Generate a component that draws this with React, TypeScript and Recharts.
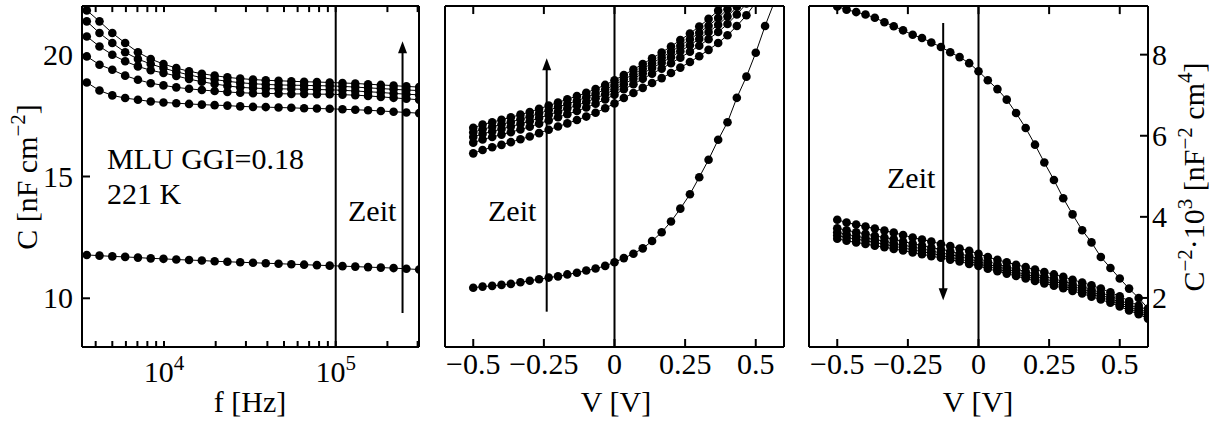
import React from 'react'
import { LineChart, Line, XAxis, YAxis, ReferenceLine } from 'recharts'

const FONT = '"Liberation Serif", "Times New Roman", Times, serif'
const FS = 30
const SUP = 21
const W = 1215
const H = 425

// panel 1: C(f), time series A (first) .. F (last)
const freqHz = [3550, 4210, 5000, 5940, 7050, 8370, 9930, 11790, 13990, 16610, 19720, 23400, 27780, 32980, 39140, 46460, 55150, 65460, 77710, 92240, 109500, 130000, 154300, 183100, 217300, 258000, 306200]
const cfA = [11.78, 11.75, 11.72, 11.7, 11.67, 11.64, 11.62, 11.59, 11.57, 11.55, 11.52, 11.5, 11.48, 11.46, 11.44, 11.42, 11.4, 11.38, 11.36, 11.34, 11.32, 11.3, 11.28, 11.26, 11.24, 11.21, 11.18]
const cfB = [18.86, 18.53, 18.33, 18.22, 18.15, 18.08, 18.04, 18.01, 17.98, 17.95, 17.93, 17.91, 17.88, 17.86, 17.85, 17.83, 17.82, 17.8, 17.79, 17.78, 17.76, 17.74, 17.72, 17.69, 17.66, 17.63, 17.6]
const cfC = [19.93, 19.59, 19.38, 19.14, 18.97, 18.83, 18.74, 18.66, 18.6, 18.55, 18.51, 18.47, 18.44, 18.42, 18.41, 18.4, 18.39, 18.39, 18.38, 18.38, 18.36, 18.34, 18.31, 18.27, 18.23, 18.19, 18.15]
const cfD = [20.75, 20.34, 20.0, 19.73, 19.52, 19.36, 19.25, 19.13, 19.0, 18.89, 18.8, 18.72, 18.66, 18.63, 18.61, 18.6, 18.59, 18.58, 18.57, 18.56, 18.54, 18.51, 18.48, 18.45, 18.41, 18.38, 18.35]
const cfE = [21.37, 20.89, 20.48, 20.1, 19.82, 19.62, 19.45, 19.3, 19.17, 19.06, 18.98, 18.91, 18.85, 18.81, 18.78, 18.76, 18.75, 18.74, 18.73, 18.72, 18.7, 18.67, 18.64, 18.61, 18.58, 18.55, 18.53]
const cfF = [21.82, 21.37, 20.89, 20.48, 20.1, 19.82, 19.62, 19.45, 19.32, 19.22, 19.14, 19.07, 19.02, 18.98, 18.95, 18.93, 18.91, 18.89, 18.88, 18.86, 18.84, 18.82, 18.79, 18.76, 18.73, 18.7, 18.67]

// panel 2: C(V)
const volts = [-0.5, -0.467, -0.433, -0.4, -0.367, -0.333, -0.3, -0.267, -0.233, -0.2, -0.167, -0.133, -0.1, -0.067, -0.033, 0, 0.033, 0.067, 0.1, 0.133, 0.167, 0.2, 0.233, 0.267, 0.3, 0.333, 0.367, 0.4, 0.433, 0.467, 0.5, 0.533, 0.567, 0.6]
const cvA = [10.43, 10.48, 10.51, 10.55, 10.59, 10.66, 10.72, 10.78, 10.85, 10.9, 10.98, 11.05, 11.14, 11.22, 11.33, 11.48, 11.65, 11.83, 12.05, 12.35, 12.71, 13.15, 13.68, 14.27, 14.97, 15.69, 16.51, 17.23, 18.23, 19.1, 20.08, 21.18, 22.2, 23.97]
const cvB = [15.95, 16.09, 16.2, 16.3, 16.41, 16.53, 16.64, 16.78, 16.92, 17.05, 17.18, 17.32, 17.46, 17.62, 17.8, 18.0, 18.22, 18.43, 18.64, 18.84, 19.04, 19.25, 19.47, 19.7, 19.94, 20.2, 20.48, 20.8, 21.18, 21.62, 22.15, 22.8, 23.5, 24.3]
const cvC = [16.39, 16.52, 16.62, 16.72, 16.82, 16.93, 17.04, 17.17, 17.3, 17.43, 17.56, 17.69, 17.83, 17.99, 18.16, 18.36, 18.58, 18.79, 19.01, 19.22, 19.43, 19.65, 19.88, 20.12, 20.37, 20.64, 20.93, 21.26, 21.65, 22.1, 22.64, 23.3, 24.0, 24.8]
const cvD = [16.62, 16.75, 16.85, 16.95, 17.05, 17.16, 17.27, 17.4, 17.53, 17.66, 17.79, 17.92, 18.06, 18.21, 18.38, 18.57, 18.79, 19.01, 19.23, 19.45, 19.67, 19.9, 20.14, 20.39, 20.65, 20.93, 21.23, 21.57, 21.97, 22.43, 22.98, 23.64, 24.35, 25.15]
const cvE = [16.81, 16.94, 17.04, 17.14, 17.24, 17.35, 17.46, 17.59, 17.72, 17.85, 17.98, 18.11, 18.25, 18.4, 18.57, 18.76, 18.98, 19.2, 19.42, 19.65, 19.88, 20.12, 20.37, 20.63, 20.9, 21.19, 21.51, 21.87, 22.28, 22.75, 23.3, 23.96, 24.68, 25.5]
const cvF = [17.0, 17.13, 17.23, 17.33, 17.43, 17.54, 17.65, 17.78, 17.91, 18.04, 18.17, 18.3, 18.44, 18.59, 18.76, 18.95, 19.17, 19.39, 19.62, 19.85, 20.09, 20.34, 20.6, 20.87, 21.16, 21.47, 21.81, 22.19, 22.62, 23.1, 23.66, 24.32, 25.05, 25.9]

// panel 3: C^-2 * 1e3 (V)
const ivA = [9.19, 9.11, 9.05, 8.99, 8.91, 8.8, 8.7, 8.6, 8.49, 8.41, 8.3, 8.19, 8.06, 7.94, 7.79, 7.59, 7.37, 7.15, 6.89, 6.56, 6.19, 5.78, 5.34, 4.91, 4.46, 4.06, 3.67, 3.37, 3.01, 2.74, 2.48, 2.23, 2.0, 1.74]
const ivB = [3.93, 3.86, 3.81, 3.76, 3.71, 3.66, 3.61, 3.55, 3.49, 3.44, 3.39, 3.33, 3.28, 3.22, 3.16, 3.09, 3.01, 2.94, 2.88, 2.82, 2.76, 2.7, 2.64, 2.58, 2.52, 2.45, 2.38, 2.31, 2.23, 2.14, 2.04, 1.92, 1.81, 1.69]
const ivC = [3.72, 3.67, 3.62, 3.58, 3.53, 3.49, 3.45, 3.39, 3.34, 3.29, 3.24, 3.2, 3.15, 3.09, 3.03, 2.97, 2.9, 2.83, 2.77, 2.71, 2.65, 2.59, 2.53, 2.47, 2.41, 2.35, 2.28, 2.21, 2.13, 2.05, 1.95, 1.84, 1.74, 1.63]
const ivD = [3.62, 3.57, 3.52, 3.48, 3.44, 3.4, 3.35, 3.3, 3.26, 3.21, 3.16, 3.11, 3.07, 3.02, 2.96, 2.9, 2.83, 2.77, 2.71, 2.64, 2.58, 2.53, 2.47, 2.41, 2.35, 2.28, 2.22, 2.15, 2.07, 1.99, 1.89, 1.79, 1.69, 1.58]
const ivE = [3.54, 3.49, 3.45, 3.41, 3.37, 3.32, 3.28, 3.23, 3.19, 3.14, 3.1, 3.05, 3.0, 2.96, 2.9, 2.84, 2.78, 2.71, 2.65, 2.59, 2.53, 2.47, 2.41, 2.35, 2.29, 2.23, 2.16, 2.09, 2.02, 1.93, 1.84, 1.74, 1.64, 1.54]
const ivF = [3.46, 3.41, 3.37, 3.33, 3.29, 3.25, 3.21, 3.17, 3.12, 3.08, 3.03, 2.99, 2.94, 2.9, 2.84, 2.79, 2.72, 2.66, 2.6, 2.54, 2.48, 2.42, 2.36, 2.3, 2.24, 2.17, 2.11, 2.03, 1.96, 1.88, 1.79, 1.69, 1.6, 1.49]

// ticks
const fTicks = [4000, 5000, 6000, 7000, 8000, 9000, 10000, 20000, 30000, 40000, 50000, 60000, 70000, 80000, 90000, 100000, 200000, 300000]
const fMajor = [10000, 100000]
const cTicks = [10, 15, 20]
const vTicks = [-0.5, -0.25, 0, 0.25, 0.5]
const vLabels = ['−0.5', '−0.25', '0', '0.25', '0.5']
const invTicks = [2, 4, 6, 8]
const invTicksLeft = [1, 2, 3, 4]

const keys = ['A', 'B', 'C', 'D', 'E', 'F']
const cfData = freqHz.map((f, i) => ({ f, A: cfA[i], B: cfB[i], C: cfC[i], D: cfD[i], E: cfE[i], F: cfF[i] }))
const cvData = volts.map((v, i) => ({ v, A: cvA[i], B: cvB[i], C: cvC[i], D: cvD[i], E: cvE[i], F: cvF[i] }))
const ivData = volts.map((v, i) => ({ v, A: ivA[i], B: ivB[i], C: ivC[i], D: ivD[i], E: ivE[i], F: ivF[i] }))

const frame = { stroke: '#000', strokeWidth: 2 }
const tickStroke = { stroke: '#000', strokeWidth: 2 }

// built-in tick lines pointing inwards (negative size); the margin puts the label origin back on the axis
const inward = (n: number) => ({ tickSize: -n, tickMargin: n, tickLine: tickStroke })
const axisBase = { allowDataOverflow: true, interval: 0 as const, axisLine: frame }

// mirrored ticks along the top edge, hanging down from the upper y limit
const topTicks = (xs: number[], yTop: number, len: number) =>
  xs.map((x) => (
    <ReferenceLine key={`t${x}`} segment={[{ x, y: yTop }, { x, y: yTop - len }]} stroke="#000" strokeWidth={2} />
  ))

const bottomLabel = (label: (v: number) => React.ReactNode, dy: number) => (p: any) => {
  const l = label(p.payload.value)
  if (l == null) return <g />
  return (
    <text x={p.x} y={p.y + dy} textAnchor="middle" fontFamily={FONT} fontSize={FS} fill="#000">
      {l}
    </text>
  )
}

const leftLabel = (p: any) => (
  <text x={p.x - 9} y={p.y} dy="0.34em" textAnchor="end" fontFamily={FONT} fontSize={FS} fill="#000">
    {p.payload.value}
  </text>
)

const rightLabel = (p: any) => (
  <text x={p.x + 4} y={p.y} dy="0.34em" textAnchor="start" fontFamily={FONT} fontSize={FS} fill="#000">
    {p.payload.value}
  </text>
)

const arrow = (p: any) => {
  const { x1, y1, x2, y2 } = p
  const d = y2 < y1 ? 1 : -1
  return (
    <g>
      <line x1={x1} y1={y1} x2={x2} y2={y2 + d * 9} stroke="#000" strokeWidth={2} />
      <polygon points={`${x2},${y2} ${x2 - 4.5},${y2 + d * 12} ${x2 + 4.5},${y2 + d * 12}`} fill="#000" />
    </g>
  )
}

const series = () =>
  keys.map((k) => (
    <Line
      key={k}
      type="linear"
      dataKey={k}
      stroke="#000"
      strokeWidth={1}
      dot={{ r: 4.3, fill: '#000', stroke: 'none' }}
      activeDot={false}
      isAnimationActive={false}
    />
  ))

const vLabel = (v: number) => vLabels[vTicks.indexOf(v)]
const fLabel = (v: number) =>
  fMajor.includes(v) ? (
    <>
      10
      <tspan dy={-12} fontSize={SUP}>
        {Math.round(Math.log10(v))}
      </tspan>
    </>
  ) : null

const abs: React.CSSProperties = { position: 'absolute', left: 0, top: 0 }

export default function App() {
  return (
    <div style={{ position: 'relative', width: W, height: H, background: '#fff' }}>
      <style>{'body{margin:0;background:#fff}'}</style>

      <div style={abs}>
        <LineChart width={W} height={H} data={cfData} margin={{ top: 5, bottom: 77, left: 81, right: W - 420 }}>
          <XAxis dataKey="f" type="number" scale="log" domain={[3330, 305500]} ticks={fTicks} height={1}
            {...axisBase} {...inward(6)} tick={bottomLabel(fLabel, 35)} />
          <XAxis xAxisId="top" dataKey="f" orientation="top" type="number" scale="log" domain={[3330, 305500]} height={1}
            {...axisBase} tickLine={false} tick={false} />
          <YAxis type="number" domain={[8, 22]} ticks={cTicks} width={1} {...axisBase} {...inward(8)} tick={leftLabel} />
          <YAxis yAxisId="right" orientation="right" type="number" domain={[8, 22]} ticks={cTicks} width={1}
            {...axisBase} {...inward(8)} tick={false} />
          <ReferenceLine x={100000} stroke="#000" strokeWidth={2} />
          <ReferenceLine segment={[{ x: 245000, y: 9.4 }, { x: 245000, y: 20.55 }]} shape={arrow} />
          {topTicks(fTicks, 22, 0.25)}
          {series()}
        </LineChart>
      </div>

      <div style={abs}>
        <LineChart width={W} height={H} data={cvData} margin={{ top: 5, bottom: 77, left: 444, right: W - 785 }}>
          <XAxis dataKey="v" type="number" domain={[-0.6, 0.6]} ticks={vTicks} height={1}
            {...axisBase} {...inward(8)} tick={bottomLabel(vLabel, 27)} />
          <XAxis xAxisId="top" dataKey="v" orientation="top" type="number" domain={[-0.6, 0.6]} height={1}
            {...axisBase} tickLine={false} tick={false} />
          <YAxis type="number" domain={[8, 22]} ticks={cTicks} width={1} {...axisBase} {...inward(8)} tick={false} />
          <YAxis yAxisId="right" orientation="right" type="number" domain={[8, 22]} ticks={cTicks} width={1}
            {...axisBase} {...inward(8)} tick={false} />
          <ReferenceLine x={0} stroke="#000" strokeWidth={2} />
          <ReferenceLine segment={[{ x: -0.24, y: 9.45 }, { x: -0.24, y: 19.85 }]} shape={arrow} />
          {topTicks(vTicks, 22, 0.33)}
          {series()}
        </LineChart>
      </div>

      <div style={abs}>
        <LineChart width={W} height={H} data={ivData} margin={{ top: 5, bottom: 77, left: 808, right: W - 1149 }}>
          <XAxis dataKey="v" type="number" domain={[-0.6, 0.6]} ticks={vTicks} height={1}
            {...axisBase} {...inward(8)} tick={bottomLabel(vLabel, 27)} />
          <XAxis xAxisId="top" dataKey="v" orientation="top" type="number" domain={[-0.6, 0.6]} height={1}
            {...axisBase} tickLine={false} tick={false} />
          <YAxis type="number" domain={[0.79, 9.2]} ticks={invTicksLeft} width={1} {...axisBase} {...inward(8)} tick={false} />
          <YAxis yAxisId="right" orientation="right" type="number" domain={[0.79, 9.2]} ticks={invTicks} width={1}
            {...axisBase} {...inward(8)} tick={rightLabel} />
          <ReferenceLine x={0} stroke="#000" strokeWidth={2} />
          <ReferenceLine segment={[{ x: -0.125, y: 8.78 }, { x: -0.125, y: 1.94 }]} shape={arrow} />
          {topTicks(vTicks, 9.2, 0.2)}
          {series()}
        </LineChart>
      </div>

      <svg width={W} height={H} style={{ ...abs, pointerEvents: 'none' }} fontFamily={FONT} fontSize={FS} fill="#000">
        <text x={107} y={169}>MLU GGI=0.18</text>
        <text x={107} y={204}>221 K</text>
        <text x={348} y={221}>Zeit</text>
        <text x={488} y={221}>Zeit</text>
        <text x={887} y={188}>Zeit</text>
        <text x={250} y={412} textAnchor="middle">f [Hz]</text>
        <text x={616} y={412} textAnchor="middle">V [V]</text>
        <text x={978} y={412} textAnchor="middle">V [V]</text>
        <text transform="translate(37,177) rotate(-90)" textAnchor="middle">
          C [nF cm
          <tspan dy={-12} fontSize={SUP}>−2</tspan>
          <tspan dy={12}>]</tspan>
        </text>
        <text transform="translate(1204,177) rotate(-90)" textAnchor="middle">
          C<tspan dy={-12} fontSize={SUP}>−2</tspan>
          <tspan dy={12}>·10</tspan>
          <tspan dy={-12} fontSize={SUP}>3</tspan>
          <tspan dy={12}> [nF</tspan>
          <tspan dy={-12} fontSize={SUP}>−2</tspan>
          <tspan dy={12}> cm</tspan>
          <tspan dy={-12} fontSize={SUP}>4</tspan>
          <tspan dy={12}>]</tspan>
        </text>
      </svg>
    </div>
  )
}
